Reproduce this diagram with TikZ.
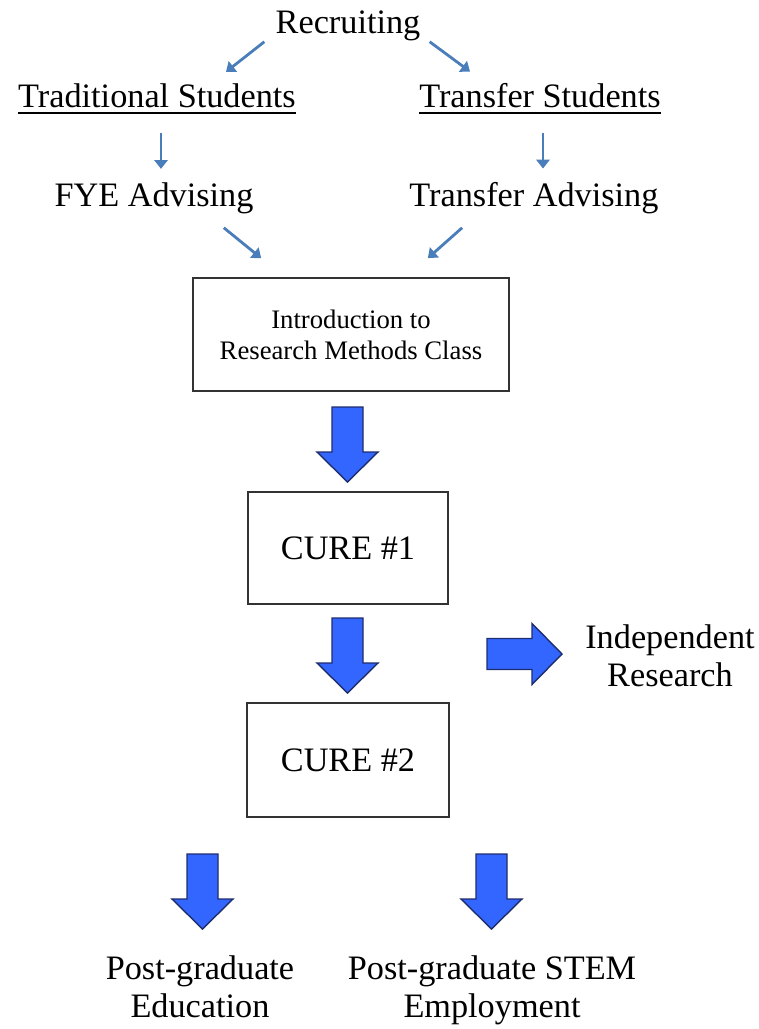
\documentclass[tikz,border=0pt]{standalone}
\usepackage{fontspec}
\setmainfont{Liberation Serif}
\usetikzlibrary{arrows.meta}
\definecolor{linkblue}{RGB}{74,126,187}
\definecolor{blkfill}{RGB}{51,102,255}
\definecolor{blkline}{RGB}{30,45,110}
\tikzset{
  lbl/.style={inner sep=0pt, anchor=base, font=\fontsize{19.5}{22}\selectfont},
  lbltwo/.style={lbl, anchor=north, align=center},
  box/.style={draw=black!80, line width=1pt, inner sep=0pt, align=center},
  link/.style={linkblue, line width=1.6pt, -{Triangle[length=5pt,width=7.5pt]}},
  uline/.style={line width=0.9pt},
  blk/.pic={\draw[fill=blkfill, draw=blkline, line width=0.8pt]
    (-15.5,0) -- (15.5,0) -- (15.5,45) -- (30.5,45) -- (0,75) -- (-30.5,45) -- (-15.5,45) -- cycle;}
}
\begin{document}
\begin{tikzpicture}[x=0.02cm, y=-0.02cm]
    \useasboundingbox (0,0) rectangle (759,1029);
    \node[lbl](recruit)at(348,33){Recruiting};
    \node[lbl](trad)at(157,107){Traditional Students};
    \node[lbl](trans)at(540,107){Transfer Students};
    \node[lbl](fye)at(154,206){FYE Advising};
    \node[lbl](tadv)at(534,206){Transfer Advising};
    \node[box, minimum width=6.32cm, minimum height=2.26cm, font=\fontsize{15.2}{17.6}\selectfont](intro)at(351,334.5){Introduction to\\Research Methods Class};
    \node[box, minimum width=4cm, minimum height=2.24cm, font=\fontsize{19.5}{22}\selectfont](cure1)at(348,548){CURE \#1};
    \node[box, minimum width=4.04cm, minimum height=2.28cm, font=\fontsize{19.5}{22}\selectfont](cure2)at(348,760){CURE \#2};
    \node[lbltwo](indep)at(670,624){Independent\\Research};
    \node[lbltwo](postedu)at(200,955){Post-graduate\\Education};
    \node[lbltwo](poststem)at(492,955){Post-graduate STEM\\Employment};
    \draw[uline]([shift={(0,6)}]trad.base west)--([shift={(0,6)}]trad.base east);
    \draw[uline]([shift={(0,6)}]trans.base west)--([shift={(0,6)}]trans.base east);
    \draw[link]([shift={(-11,1)}]recruit.south west)--([shift={(69,-11)}]trad.north);
    \draw[link]([shift={(9,1)}]recruit.south east)--([shift={(-70,-11)}]trans.north);
    \draw[link]([shift={(4,25)}]trad.south)--([shift={(7,-13)}]fye.north);
    \draw[link]([shift={(3,25)}]trans.south)--([shift={(9,-13)}]tadv.north);
    \draw[link]([shift={(-30,14)}]fye.south east)--([shift={(69,-19)}]intro.north west);
    \draw[link]([shift={(53,14)}]tadv.south west)--([shift={(-82,-19)}]intro.north east);
    \pic(arr1)at(347.5,407){blk};
    \pic(arr2)at(347.5,618){blk};
    \pic[rotate=90](arr3)at(487,654){blk};
    \pic(arr4)at(202.5,854){blk};
    \pic(arr5)at(491.5,854){blk};
\end{tikzpicture}
\end{document}
